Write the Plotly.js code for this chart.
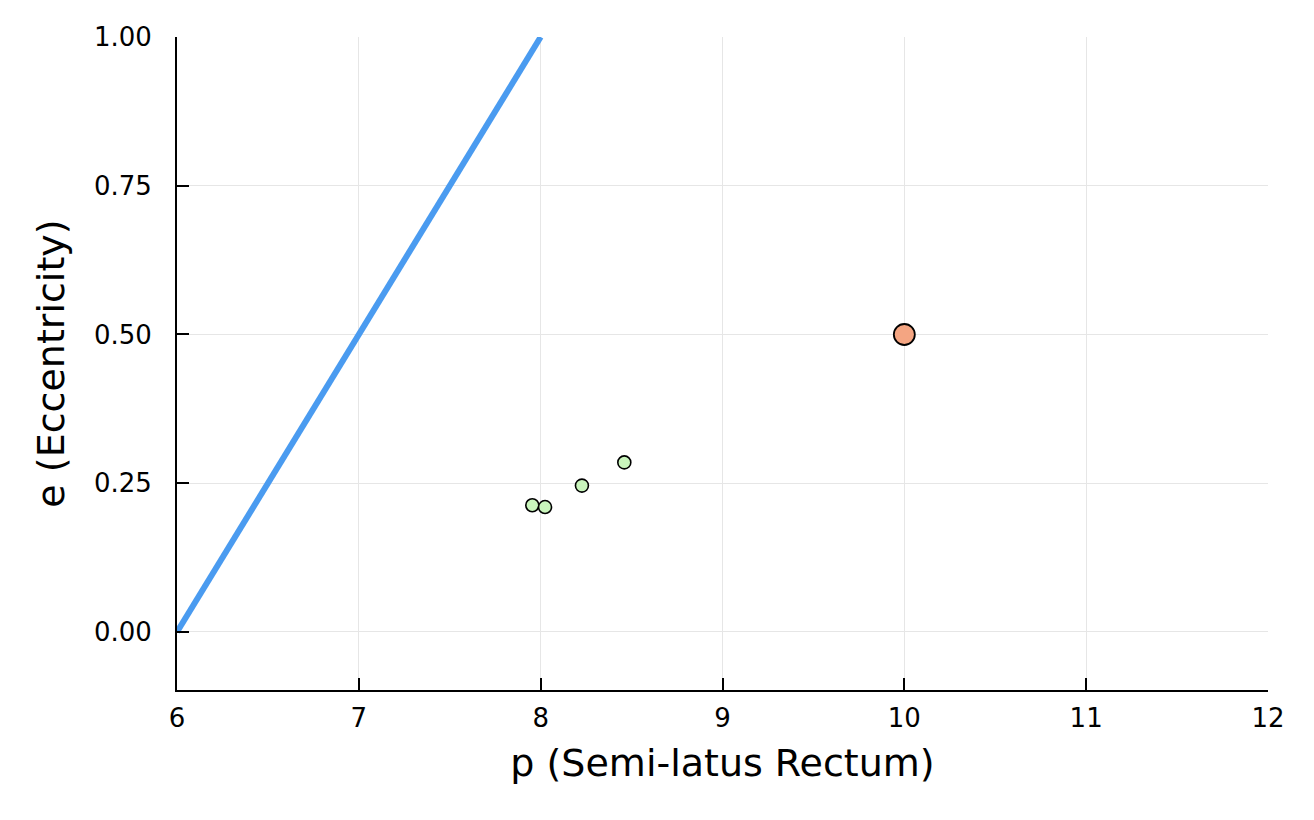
<!DOCTYPE html>
<html>
<head>
<meta charset="utf-8">
<script src="https://cdn.plot.ly/plotly-3.0.1.min.js"></script>
<style>html,body{margin:0;padding:0;background:#fff;}#chart{width:1314px;height:820px;}</style>
</head>
<body>
<div id="chart"></div>
<script>
// Separatrix line
const lineP = [6, 8];
const lineE = [0, 1];
// Green points
const greenP = [7.954, 8.024, 8.227, 8.46];
const greenE = [0.213, 0.21, 0.246, 0.285];
// Orange point
const orangeP = [10];
const orangeE = [0.5];

const xTicks = [6, 7, 8, 9, 10, 11, 12];
const yTicks = [0, 0.25, 0.5, 0.75, 1.0];
const yTickText = ["0.00", "0.25", "0.50", "0.75", "1.00"];

const traces = [
  {x: lineP, y: lineE, mode: 'lines', line: {color: '#4a9bf0', width: 6}, hoverinfo: 'skip'},
  {x: greenP, y: greenE, mode: 'markers', marker: {size: 13, color: '#c9f5bc', line: {color: '#000', width: 1.6}}},
  {x: orangeP, y: orangeE, mode: 'markers', marker: {size: 21, color: '#f4a582', line: {color: '#000', width: 1.8}}}
];

const fam = 'DejaVu Sans, sans-serif';
const layout = {
  width: 1314, height: 820,
  margin: {l: 177, r: 46, t: 37, b: 130},
  showlegend: false,
  paper_bgcolor: '#fff', plot_bgcolor: '#fff',
  font: {family: fam, color: '#000'},
  xaxis: {
    range: [6, 12], tickvals: xTicks, ticktext: xTicks.map(String),
    showline: true, linecolor: '#000', linewidth: 2,
    ticks: 'inside', ticklen: 12, tickwidth: 2, tickcolor: '#000',
    showgrid: true, gridcolor: '#e6e6e6', gridwidth: 1, zeroline: false,
    tickfont: {family: fam, size: 26, color: '#000'},
    ticklabelstandoff: 4, automargin: false,
    title: {text: 'p (Semi-latus Rectum)', font: {family: fam, size: 38, color: '#000'}, standoff: 17}
  },
  yaxis: {
    range: [-0.0975, 1.0], tickvals: yTicks, ticktext: yTickText,
    showline: true, linecolor: '#000', linewidth: 2,
    ticks: 'inside', ticklen: 12, tickwidth: 2, tickcolor: '#000',
    showgrid: true, gridcolor: '#e6e6e6', gridwidth: 1, zeroline: false,
    tickfont: {family: fam, size: 26, color: '#000'},
    ticklabelstandoff: 18, automargin: false,
    title: {text: 'e (Eccentricity)', font: {family: fam, size: 38, color: '#000'}, standoff: 18}
  }
};

Plotly.newPlot('chart', traces, layout, {displayModeBar: false, staticPlot: true});
</script>
</body>
</html>
